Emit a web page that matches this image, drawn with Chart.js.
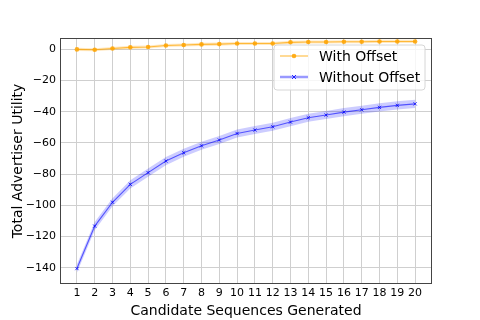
<!DOCTYPE html>
<html>
<head>
<meta charset="utf-8">
<script src="https://cdn.jsdelivr.net/npm/chart.js@4"></script>
<style>
html,body{margin:0;padding:0;background:#fff;}
#wrap{width:480px;height:320px;}
</style>
</head>
<body>
<div id="wrap"><canvas id="c" width="480" height="320"></canvas></div>
<script>
const categories = [1,2,3,4,5,6,7,8,9,10,11,12,13,14,15,16,17,18,19,20];
const withOffset = [0.0,-0.2,0.6,1.3,1.5,2.5,2.8,3.2,3.4,3.8,3.8,3.8,4.5,4.7,4.7,4.9,4.9,5.1,5.1,5.1];
const withOffsetErr = [1.0,1.0,1.0,1.0,1.0,1.0,1.0,1.0,1.0,1.0,1.0,1.0,1.0,1.0,1.0,1.0,1.0,1.0,1.0,1.0];
const withoutOffset = [-140.5,-113.3,-98.0,-86.5,-79.0,-71.6,-66.3,-61.8,-58.1,-53.9,-51.7,-49.6,-46.6,-43.8,-42.1,-40.2,-38.7,-37.2,-35.9,-34.9];
const withoutOffsetErr = [2.6,2.6,2.6,2.6,2.6,2.6,2.6,2.6,2.6,2.6,2.6,2.6,2.6,2.6,2.6,2.6,2.6,2.6,2.6,2.6];
const yTicks = [-140,-120,-100,-80,-60,-40,-20,0];
const seriesLabels = ['With Offset','Without Offset'];

const FONT = "'DejaVu Sans', sans-serif";
const pts = (arr) => arr.map((v,i)=>({x:categories[i], y:v}));
const band = (arr, err, s) => arr.map((v,i)=>({x:categories[i], y:v + s*err[i]}));

const orangeLine = 'rgba(255,165,0,0.7)';
const blueLine = 'rgba(0,0,255,0.6)';

const frameLegend = {
  id:'frameLegend',
  afterDraw(chart){
    const ctx = chart.ctx, a = chart.chartArea;
    ctx.save();
    ctx.strokeStyle = '#444';
    ctx.lineWidth = 1;
    ctx.strokeRect(a.left+0.5, a.top+0.5, a.right-a.left-1, a.bottom-a.top-1);
    // legend
    const lx=274, ly=45, lw=151, lh=45, r=3;
    ctx.fillStyle='rgba(255,255,255,0.8)';
    ctx.strokeStyle='#d6d6d6';
    ctx.beginPath();
    ctx.moveTo(lx+r,ly); ctx.lineTo(lx+lw-r,ly); ctx.quadraticCurveTo(lx+lw,ly,lx+lw,ly+r);
    ctx.lineTo(lx+lw,ly+lh-r); ctx.quadraticCurveTo(lx+lw,ly+lh,lx+lw-r,ly+lh);
    ctx.lineTo(lx+r,ly+lh); ctx.quadraticCurveTo(lx,ly+lh,lx,ly+lh-r);
    ctx.lineTo(lx,ly+r); ctx.quadraticCurveTo(lx,ly,lx+r,ly);
    ctx.closePath(); ctx.fill(); ctx.stroke();
    const rows = [
      {label:seriesLabels[0], color:orangeLine, w:1.2, marker:'dot', y:56},
      {label:seriesLabels[1], color:'rgba(0,0,255,0.4)', w:2.5, marker:'x', y:77}
    ];
    rows.forEach(rw=>{
      ctx.strokeStyle = rw.color; ctx.lineWidth=rw.w;
      ctx.beginPath(); ctx.moveTo(280,rw.y); ctx.lineTo(308,rw.y); ctx.stroke();
      if(rw.marker==='dot'){
        ctx.fillStyle='rgba(255,165,0,0.85)';
        ctx.beginPath(); ctx.arc(294,rw.y,2.3,0,Math.PI*2); ctx.fill();
      } else {
        ctx.strokeStyle='rgba(0,0,255,0.8)'; ctx.lineWidth=1;
        ctx.beginPath(); ctx.moveTo(292,rw.y-2); ctx.lineTo(296,rw.y+2); ctx.moveTo(292,rw.y+2); ctx.lineTo(296,rw.y-2); ctx.stroke();
      }
      ctx.fillStyle='#000';
      ctx.font = "14px "+FONT;
      ctx.textBaseline='middle';
      ctx.textAlign='left';
      ctx.fillText(rw.label, 319, rw.y+1);
    });
    ctx.restore();
  }
};

new Chart(document.getElementById('c'), {
  type:'line',
  data:{
    datasets:[
      {label:'woU', data:band(withoutOffset,withoutOffsetErr,1), borderWidth:0, pointRadius:0, fill:false, borderColor:'rgba(0,0,0,0)'},
      {label:'woL', data:band(withoutOffset,withoutOffsetErr,-1), borderWidth:0, pointRadius:0, fill:'-1', backgroundColor:'rgba(0,0,255,0.2)', borderColor:'rgba(0,0,0,0)'},
      {label:'wU', data:band(withOffset,withOffsetErr,1), borderWidth:0, pointRadius:0, fill:false, borderColor:'rgba(0,0,0,0)'},
      {label:'wL', data:band(withOffset,withOffsetErr,-1), borderWidth:0, pointRadius:0, fill:'-1', backgroundColor:'rgba(255,165,0,0.25)', borderColor:'rgba(0,0,0,0)'},
      {label:seriesLabels[0], data:pts(withOffset), borderColor:orangeLine, borderWidth:1.1, pointStyle:'circle', pointRadius:2.3, pointBackgroundColor:'rgba(255,165,0,0.85)', pointBorderWidth:0, fill:false, tension:0},
      {label:seriesLabels[1], data:pts(withoutOffset), borderColor:blueLine, borderWidth:1.1, pointStyle:'crossRot', pointRadius:2.3, pointBorderColor:'rgba(0,0,255,0.8)', pointBorderWidth:1, fill:false, tension:0}
    ]
  },
  options:{
    responsive:false,
    animation:false,
    layout:{padding:{left:0,right:48,top:38,bottom:0}},
    plugins:{legend:{display:false}, tooltip:{enabled:false}},
    scales:{
      x:{
        type:'linear', min:0.05, max:20.95,
        afterBuildTicks(s){ s.ticks = categories.map(v=>({value:v})); },
        afterFit(s){ s.height = 36; },
        grid:{color:'#cfcfcf', lineWidth:1, drawTicks:false},
        border:{display:false},
        ticks:{color:'#000', font:{family:FONT,size:11}, padding:3, maxRotation:0, autoSkip:false},
        title:{display:true, text:'Candidate Sequences Generated', color:'#000', font:{family:FONT,size:14}, padding:{top:0,bottom:0}}
      },
      y:{
        type:'linear', min:-150.4, max:7.3,
        afterBuildTicks(s){ s.ticks = yTicks.map(v=>({value:v})); },
        afterFit(s){ s.width = 60; },
        grid:{color:'#cfcfcf', lineWidth:1, drawTicks:false},
        border:{display:false},
        ticks:{color:'#000', font:{family:FONT,size:11}, padding:4, callback:(v)=> (v<0? '\u2212'+Math.abs(v): String(v))},
        title:{display:true, text:'Total Advertiser Utility', color:'#000', font:{family:FONT,size:14}, padding:{top:10,bottom:0}}
      }
    }
  },
  plugins:[frameLegend]
});
</script>
</body>
</html>
